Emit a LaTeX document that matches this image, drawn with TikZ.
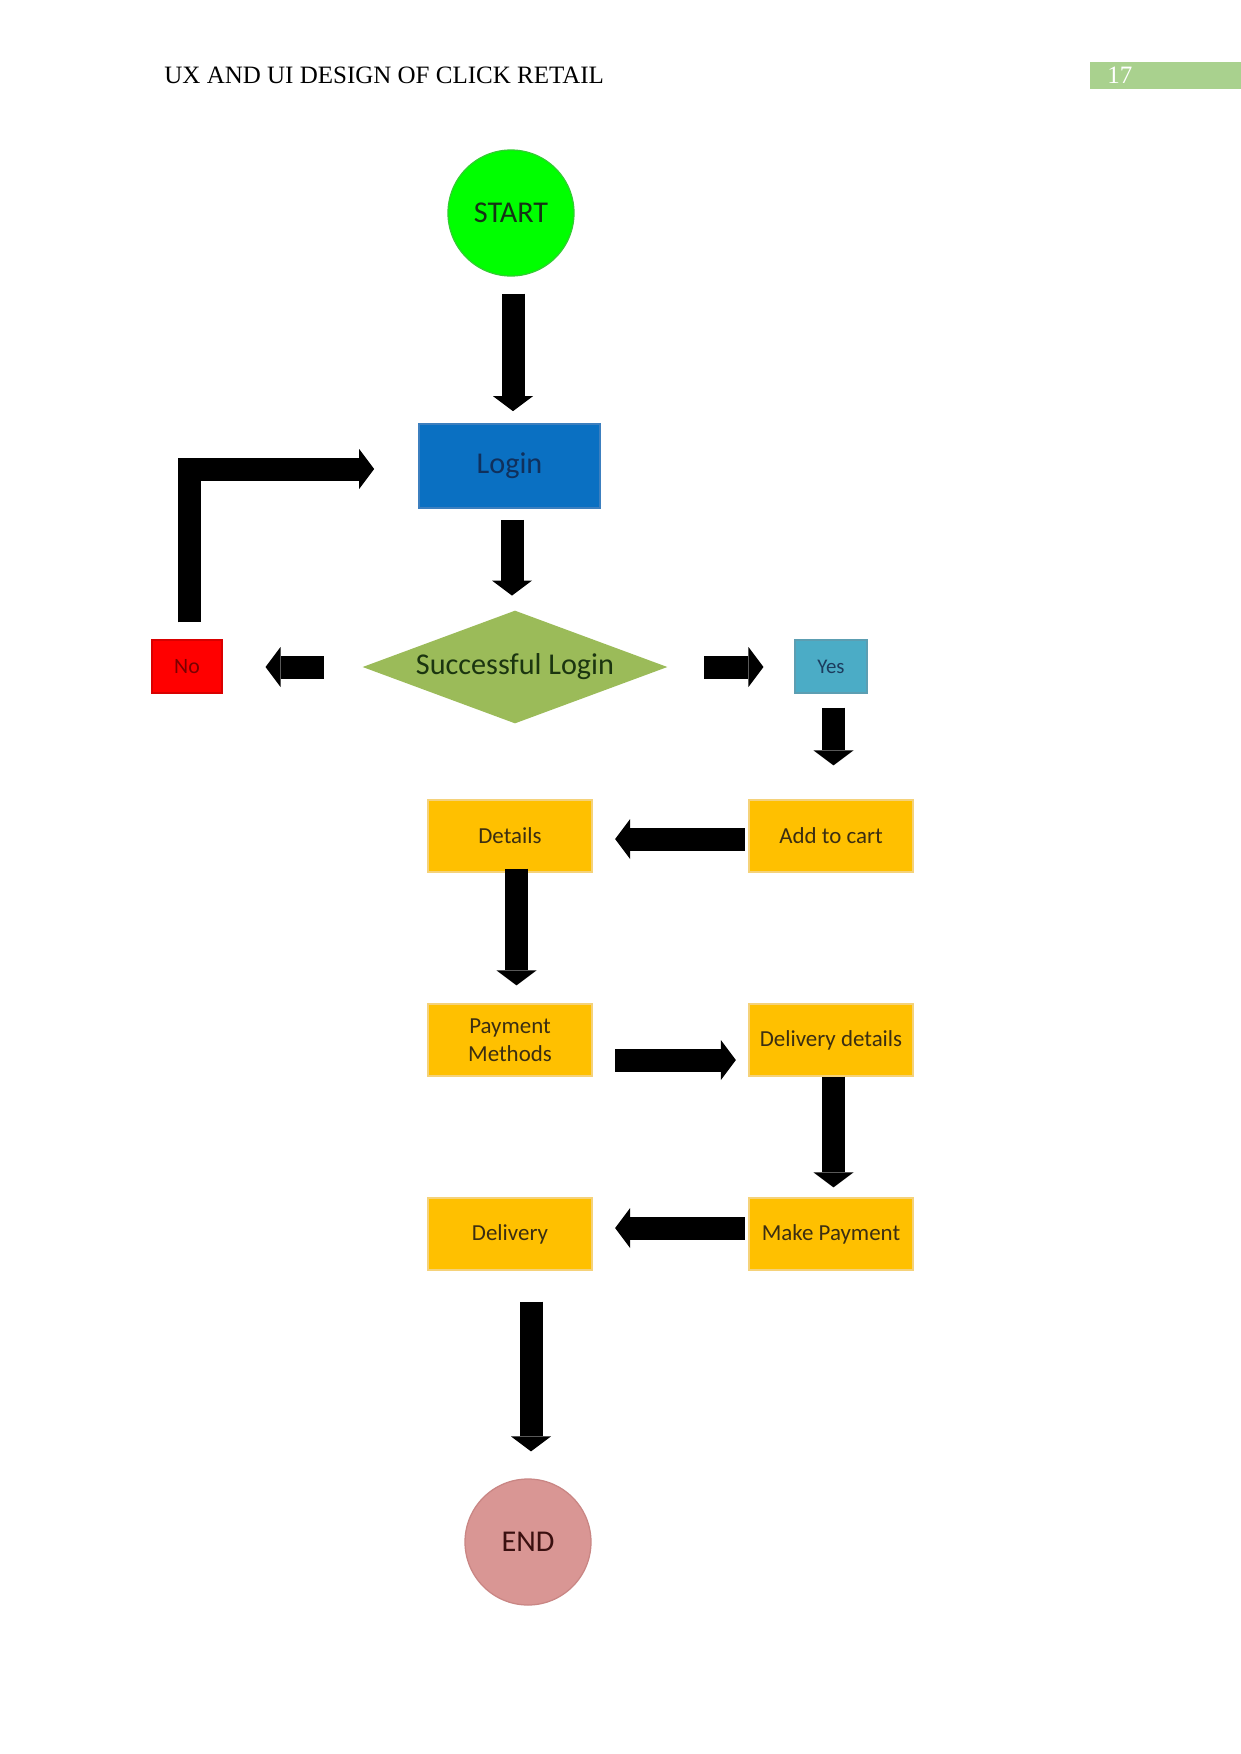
\documentclass[tikz,border=0pt]{standalone}
\usepackage{fontspec}
\setmainfont{Carlito}
\newfontfamily\hdrfont{Liberation Serif}
\usetikzlibrary{arrows.meta,shapes.geometric}
\definecolor{pagegreen}{HTML}{A9D18E}
\definecolor{startgreen}{HTML}{00FF00}
\definecolor{startline}{HTML}{33CC33}
\definecolor{starttext}{HTML}{153315}
\definecolor{loginblue}{HTML}{0A70C2}
\definecolor{loginline}{HTML}{3C7FBF}
\definecolor{logintext}{HTML}{10305C}
\definecolor{dgreen}{HTML}{9BBB59}
\definecolor{dgreentext}{HTML}{1B3510}
\definecolor{nored}{HTML}{FF0000}
\definecolor{notext}{HTML}{7A0000}
\definecolor{yesblue}{HTML}{4BACC6}
\definecolor{yesline}{HTML}{5C9EB2}
\definecolor{yestext}{HTML}{1C3C5E}
\definecolor{ybox}{HTML}{FFC000}
\definecolor{yboxline}{HTML}{F5D27A}
\definecolor{ytext}{HTML}{3B2E12}
\definecolor{endpink}{HTML}{D99694}
\definecolor{endline}{HTML}{C98684}
\definecolor{endtext}{HTML}{3A1010}
\def\pxu{0.48pt}
\begin{document}
\begin{tikzpicture}[x=0.48pt,y=-0.48pt,
  hdr/.style={font=\hdrfont\fontsize{12}{14}\selectfont,inner sep=0pt},
  bigtxt/.style={font=\fontsize{14.5}{17}\selectfont},
  ybx/.style={rectangle,inner sep=0pt,minimum width=164*\pxu,minimum height=72*\pxu,
    fill=ybox,draw=yboxline,line width=0.6pt,text=ytext,align=center,
    font=\fontsize{11}{13.4}\selectfont},
  blk/.style={draw=black,line width=11.04pt,-{Triangle[length=7.2pt,width=19.2pt,line width=0pt]}}]
\useasboundingbox (0,0) rectangle (1241,1754);

% header
\node[hdr,anchor=west] (title) at (164,75) {UX AND UI DESIGN OF CLICK RETAIL};
\node[fill=pagegreen,minimum width=151*\pxu,minimum height=27*\pxu,inner sep=0pt,anchor=west] (pgbox) at (1090,75) {};
\node[hdr,text=white,anchor=west] (pgnum) at (1107,75) {17};

% nodes
\node[circle,fill=startgreen,draw=startline,line width=0.6pt,minimum size=126*\pxu,inner sep=0pt,bigtxt,text=starttext] (start) at (511,213) {START};
\node[rectangle,fill=loginblue,draw=loginline,line width=0.8pt,minimum width=181*\pxu,minimum height=84*\pxu,inner sep=0pt,bigtxt,text=logintext] (login) at (509.5,466) {Login};
\node[diamond,aspect=3,minimum width=305*\pxu,minimum height=113*\pxu,inner sep=0pt,fill=dgreen,bigtxt,text=dgreentext] (decide) at (515,667) {Successful Login};
\node[rectangle,fill=nored,draw=red!85!black,line width=0.5pt,minimum width=70*\pxu,minimum height=53*\pxu,inner sep=0pt,text=notext,font=\fontsize{10.5}{12}\selectfont] (no) at (187,666.5) {No};
\node[rectangle,fill=yesblue,draw=yesline,line width=0.5pt,minimum width=72*\pxu,minimum height=53*\pxu,inner sep=0pt,text=yestext,font=\fontsize{10}{12}\selectfont] (yes) at (831,666.5) {Yes};

\node[ybx] (details) at (510,836) {Details};
\node[ybx] (add) at (831,836) {Add to cart};
\node[ybx] (pay) at (510,1040) {Payment\\Methods};
\node[ybx] (deldet) at (831,1040) {Delivery details};
\node[ybx] (delivery) at (510,1234) {Delivery};
\node[ybx] (mkpay) at (831,1234) {Make Payment};

\node[circle,fill=endpink,draw=endline,line width=0.6pt,minimum size=126*\pxu,inner sep=0pt,bigtxt,text=endtext] (end) at (528,1542) {END};

% connectors
\draw[blk,shorten <=17*\pxu,shorten >=12*\pxu] ([xshift=2*\pxu]start.south) -- ([xshift=2*\pxu]start.south |- login.north);
\draw[blk,shorten <=11*\pxu,shorten >=14.5*\pxu] ([xshift=2.5*\pxu]login.south) -- ([xshift=2.5*\pxu]login.south |- decide.north);
\draw[blk,shorten <=38.5*\pxu,shorten >=43*\pxu] (decide.west) -- (decide.west -| no.east);
\draw[blk,shorten <=36.5*\pxu,shorten >=31*\pxu] (decide.east) -- (decide.east -| yes.west);
\draw[blk,shorten <=14*\pxu,shorten >=34*\pxu] ([xshift=2.5*\pxu]yes.south) -- ([xshift=2.5*\pxu]yes.south |- add.north);
\draw[blk,shorten <=3.5*\pxu,shorten >=22.5*\pxu] ([yshift=-3*\pxu]add.west) -- ([yshift=-3*\pxu]add.west -| details.east);
\draw[blk,shorten <=-4*\pxu,shorten >=18*\pxu] ([xshift=6.5*\pxu]details.south) -- ([xshift=6.5*\pxu]details.south |- pay.north);
\draw[blk,shorten <=22.5*\pxu,shorten >=12.5*\pxu] ([yshift=-20*\pxu]pay.east) -- ([yshift=-20*\pxu]pay.east -| deldet.west);
\draw[blk,shorten >=10*\pxu] ([xshift=2.5*\pxu]deldet.south) -- ([xshift=2.5*\pxu]deldet.south |- mkpay.north);
\draw[blk,shorten <=3.5*\pxu,shorten >=22.5*\pxu] ([yshift=6*\pxu]mkpay.west) -- ([yshift=6*\pxu]mkpay.west -| delivery.east);
\draw[blk,shorten <=31*\pxu,shorten >=27*\pxu] ([xshift=21*\pxu]delivery.south) -- ([xshift=21*\pxu]delivery.south |- end.north);
\draw[blk,line join=miter,shorten <=17*\pxu,shorten >=44*\pxu] ([xshift=2.5*\pxu]no.north) |- ([yshift=-3*\pxu]login.west);
\end{tikzpicture}
\end{document}
